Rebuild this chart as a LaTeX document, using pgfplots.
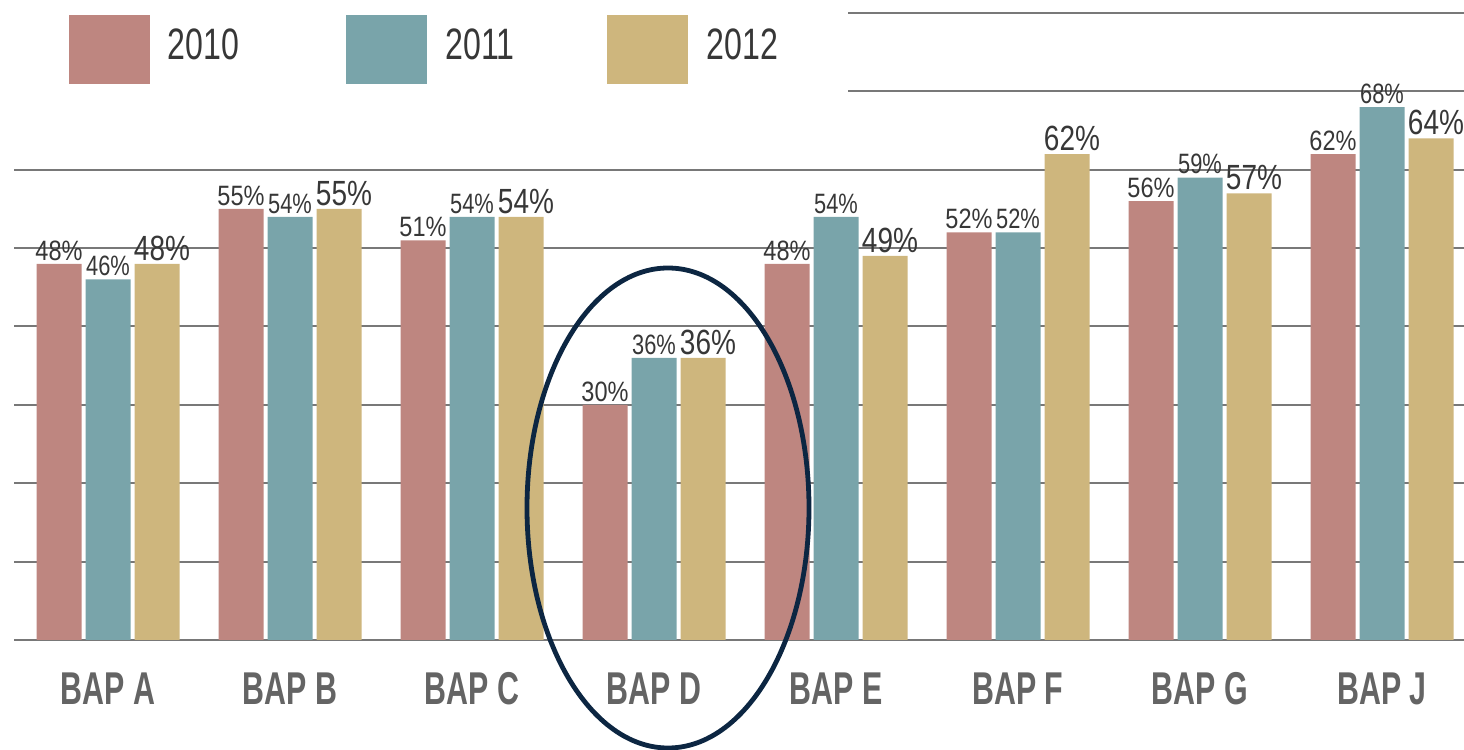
\documentclass[border=0pt]{standalone}
\usepackage{fontspec}
\setmainfont{Liberation Sans}
\newfontfamily\labA[FakeStretch=0.84]{Liberation Sans}
\newfontfamily\labB[FakeStretch=0.78]{Liberation Sans}
\newfontfamily\labC[FakeStretch=0.80]{Liberation Sans}
\newfontfamily\catfont[FakeStretch=0.66]{Liberation Sans}
\newfontfamily\legfont[FakeStretch=0.73]{Liberation Sans}
\usepackage{pgfplots}
\pgfplotsset{compat=1.18}
\definecolor{c2010}{RGB}{190,134,128}
\definecolor{c2011}{RGB}{121,164,170}
\definecolor{c2012}{RGB}{206,182,125}
\definecolor{gridc}{RGB}{120,120,120}
\definecolor{labc}{RGB}{55,55,55}
\definecolor{catc}{RGB}{100,100,100}
\definecolor{navy}{RGB}{12,38,66}
\begin{document}
\begin{tikzpicture}
\useasboundingbox (0,0) rectangle (732pt,375pt);
\clip (0,0) rectangle (732pt,375pt);
\begin{axis}[
  at={(7pt,55pt)}, anchor=south west,
  scale only axis, width=725pt, height=320pt,
  xmin=-0.5165, xmax=7.4505, ymin=0, ymax=81.66,
  ybar=2pt, bar width=22.5pt,
  xtick={0,...,7},
  xticklabels={BAP A,BAP B,BAP C,BAP D,BAP E,BAP F,BAP G,BAP J},
  ytick={0,10,...,80}, yticklabels={},
  ymajorgrids, major grid style={line width=1pt, color=gridc},
  axis line style={draw=none}, major tick length=0pt,
  xticklabel style={font=\catfont\bfseries\fontsize{23}{23}\selectfont, text=catc, anchor=base, yshift=-32.5pt},
  /pgf/number format/assume math mode=true,
  point meta=y,
  nodes near coords={\pgfmathprintnumber{\pgfplotspointmeta}\%},
  legend style={at={(0.0379,0.9766)}, anchor=north west, draw=none, fill=none,
    inner sep=0pt, outer sep=0pt, column sep=9pt,
    font=\legfont\fontsize{22}{22}\selectfont, text=labc,
    nodes={inner sep=0pt},
    /tikz/column 2/.style={column sep=53.5pt},
    /tikz/column 4/.style={column sep=46.5pt}},
  legend columns=3,
]
\addplot[fill=c2010, draw=none,
  every node near coord/.append style={font=\labA\fontsize{14}{14}\selectfont, text=labc, inner sep=1.5pt},
  legend image code/.code={\fill[c2010] (0pt,-19pt) rectangle (40.5pt,15.5pt);}]
  coordinates {(0,48) (1,55) (2,51) (3,30) (4,48) (5,52) (6,56) (7,62)};
\addplot[fill=c2011, draw=none,
  every node near coord/.append style={font=\labB\fontsize{14}{14}\selectfont, text=labc, inner sep=1.5pt},
  legend image code/.code={\fill[c2011] (0pt,-19pt) rectangle (40.5pt,15.5pt);}]
  coordinates {(0,46) (1,54) (2,54) (3,36) (4,54) (5,52) (6,59) (7,68)};
\addplot[fill=c2012, draw=none,
  every node near coord/.append style={font=\labC\fontsize{17.5}{17.5}\selectfont, text=labc, inner sep=1.5pt, xshift=2.5pt},
  legend image code/.code={\fill[c2012] (0pt,-19pt) rectangle (40.5pt,15.5pt);}]
  coordinates {(0,48) (1,55) (2,54) (3,36) (4,49) (5,62) (6,57) (7,64)};
\fill[white] (axis cs:-0.6,65) rectangle (axis cs:4.066,90);
\legend{2010,2011,2012}
\end{axis}
\draw[navy, line width=2.4pt] (334pt,121pt) ellipse [x radius=70.5pt, y radius=120pt];
\end{tikzpicture}
\end{document}
